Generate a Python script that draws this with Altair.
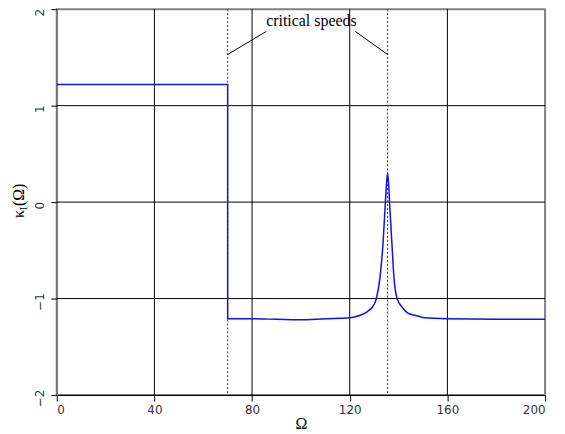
import altair as alt
import pandas as pd

# curve kappa_I(Omega)
omega = [0, 70, 70, 80, 90, 99, 110, 120, 123.4, 125.5, 127.5, 129.2, 130.9, 132.4,
         133.6, 134.6, 135.1, 135.5, 135.9, 136.3, 137.3, 138.1, 139.4, 141.5, 143.8,
         147.9, 150.6, 160, 180, 200]
kappa = [1.22, 1.22, -1.21, -1.21, -1.215, -1.22, -1.21, -1.20, -1.18, -1.16, -1.13,
         -1.09, -1.00, -0.78, -0.44, 0.00, 0.20, 0.30, 0.20, 0.00, -0.44, -0.78, -1.00,
         -1.09, -1.15, -1.18, -1.20, -1.21, -1.215, -1.215]

critical_speeds = [70, 135.5]
x_ticks = [0, 40, 80, 120, 160, 200]
y_ticks = [-2, -1, 0, 1, 2]
x_grid = [40, 80, 120, 160]
y_grid = [-1, 0, 1]

# annotation leader lines (data coords)
lead_x = [70, 122.2]
lead_y = [1.53, 1.77]
lead_x2 = [85.9, 135.5]
lead_y2 = [1.77, 1.53]
label_text = "critical speeds"
label_x = 104.3
label_y = 1.88

W, H = 491, 388

curve = pd.DataFrame({"omega": omega, "kappa": kappa, "i": range(len(omega))})
crit = pd.DataFrame({"omega": critical_speeds})
xg = pd.DataFrame({"v": x_grid})
yg = pd.DataFrame({"v": y_grid})
leads = pd.DataFrame({"x": lead_x, "y": lead_y, "x2": lead_x2, "y2": lead_y2})
lab = pd.DataFrame({"x": [label_x], "y": [label_y], "t": [label_text]})

xscale = alt.Scale(domain=[0, 200], nice=False, zero=False)
yscale = alt.Scale(domain=[-2, 2], nice=False, zero=False)

xaxis = alt.Axis(values=x_ticks, grid=False, tickSize=6, tickColor="#000",
                 domainColor="#000", labelFont="DejaVu Sans", labelFontSize=12,
                 labelColor="#333", labelPadding=4, format="d", title="Ω",
                 titleFont="Liberation Serif", titleFontSize=16, titleFontWeight="normal",
                 titleColor="#000", titlePadding=0)
yaxis = alt.Axis(values=y_ticks, grid=False, tickSize=6, tickColor="#000",
                 domainColor="#666", labelFont="DejaVu Sans", labelFontSize=12,
                 labelColor="#333", labelAngle=270, labelAlign="center",
                 labelBaseline="middle", labelPadding=11, labelOffset=3,
                 format="d", title="")

gx = alt.Chart(xg).mark_rule(color="#000", strokeWidth=1).encode(
    x=alt.X("v:Q", scale=xscale, axis=xaxis))
gy = alt.Chart(yg).mark_rule(color="#000", strokeWidth=1).encode(
    y=alt.Y("v:Q", scale=yscale, axis=yaxis))

cr = alt.Chart(crit).mark_rule(color="#333", strokeWidth=1, strokeDash=[2, 2]).encode(
    x=alt.X("omega:Q", scale=xscale))

line = alt.Chart(curve).mark_line(color="#1010F0", strokeWidth=1.5,
                                  interpolate="monotone").encode(
    x=alt.X("omega:Q", scale=xscale),
    y=alt.Y("kappa:Q", scale=yscale),
    order="i:Q")

ld = alt.Chart(leads).mark_rule(color="#000", strokeWidth=1).encode(
    x=alt.X("x:Q", scale=xscale), y=alt.Y("y:Q", scale=yscale),
    x2="x2:Q", y2="y2:Q")

tx = alt.Chart(lab).mark_text(font="Liberation Serif", fontSize=16, color="#000").encode(
    x=alt.X("x:Q", scale=xscale), y=alt.Y("y:Q", scale=yscale), text="t:N")

# y-axis title kappa_I(Omega), drawn as rotated text pieces
yc = H / 2
t1 = alt.Chart(pd.DataFrame({"t": ["κ"]})).mark_text(
    font="Liberation Serif", fontSize=16, angle=270, align="left", baseline="middle",
    color="#000").encode(text="t:N", x=alt.value(-38), y=alt.value(yc + 16))
t2 = alt.Chart(pd.DataFrame({"t": ["I"]})).mark_text(
    font="Liberation Serif", fontSize=10, angle=270, align="left", baseline="middle",
    color="#000").encode(text="t:N", x=alt.value(-33), y=alt.value(yc + 8))
t3 = alt.Chart(pd.DataFrame({"t": ["(Ω)"]})).mark_text(
    font="Liberation Serif", fontSize=16, angle=270, align="left", baseline="middle",
    color="#000").encode(text="t:N", x=alt.value(-38), y=alt.value(yc + 4))

chart = alt.layer(gx, gy, cr, line, ld, tx, t1, t2, t3).properties(
    width=W, height=H,
    autosize=alt.AutoSizeParams(type="none"),
    padding={"left": 49, "top": 0, "right": 12, "bottom": 36},
).configure_view(stroke="#808080", strokeWidth=2)

chart.save("out.html", embed_options={"renderer": "svg", "actions": False})
